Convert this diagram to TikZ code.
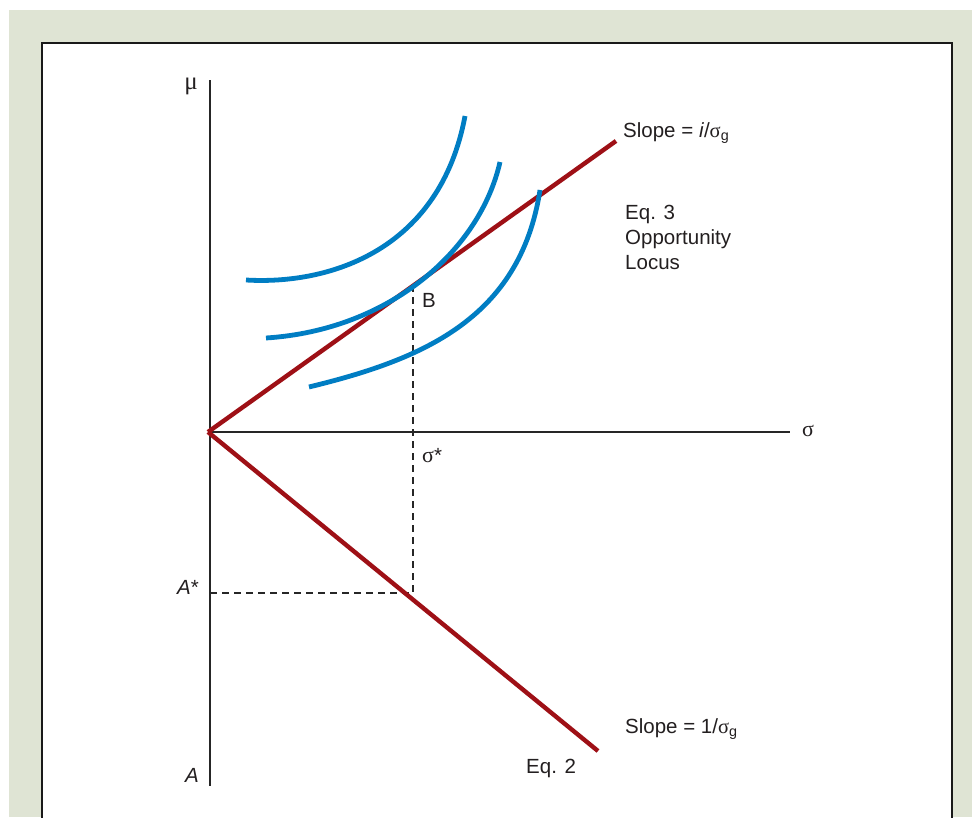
\documentclass[tikz,border=0pt]{standalone}
\usepackage{fontspec}
\setmainfont{Liberation Sans}
\newfontfamily\grk{Liberation Serif}
\definecolor{bgreen}{RGB}{223,228,212}
\definecolor{dred}{RGB}{158,16,22}
\definecolor{cblue}{RGB}{0,125,195}
\definecolor{tgray}{RGB}{35,31,32}
\begin{document}
\begin{tikzpicture}[x=1pt,y=-1pt,
  txt/.style={font=\fontsize{20.5}{25}\selectfont, text=tgray, inner sep=0pt},
  grklbl/.style={font=\grk\fontsize{22}{25}\selectfont, text=tgray, inner sep=0pt},
  axis/.style={draw=black!85, line width=1.4pt},
  redline/.style={draw=dred, line width=4.4pt},
  bluecurve/.style={draw=cblue, line width=4.8pt},
  guide/.style={draw=black!85, line width=1.2pt, dash pattern=on 7pt off 5pt}]
\useasboundingbox (0,0) rectangle (972,817);
\fill[white] (0,0) rectangle (972,817);
\fill[bgreen] (9,10) rectangle (972,817);
\draw[fill=white, draw=black!90, line width=1.8pt] (42,43) rectangle (952,830);
% coordinates
\coordinate (O) at (208,432);
\coordinate (ytop) at (210,80);
\coordinate (ybot) at (210,786);
\coordinate (xend) at (790,432);
\coordinate (U) at (616,141);
\coordinate (L) at (598,751);
\coordinate (B) at (413,285);
\coordinate (Bx) at (413,597);
\coordinate (Ay) at (210,593);
\coordinate (Ax) at (413,593);
% axes
\draw[axis] (ytop) -- (ybot);
\draw[axis] (O) -- (xend);
% guides
\draw[guide] (B) -- (Bx);
\draw[guide] (Ay) -- (Ax);
% red lines
\draw[redline] (O) -- (U);
\draw[redline] (O) -- (L);
% blue indifference curves
\draw[bluecurve] (246,280) .. controls (330,285) and (440,250) .. (465,116);
\draw[bluecurve] (266,338) .. controls (390,330) and (480,250) .. (500,162);
\draw[bluecurve] (309,387) .. controls (420,360) and (520,320) .. (540,190);
% labels
\node[grklbl, font=\grk\fontsize{25}{25}\selectfont] (mu) at (191,86) {μ};
\node[grklbl] (sig) at (808,431) {σ};
\node[txt, anchor=base west] (Blbl) at (422,307) {B};
\node[grklbl, anchor=base west] (sigstar) at (422,462) {σ{\fontsize{20.5}{25}\selectfont\rmfamily *}};
\node[txt, anchor=base west] (Astar) at (177,594) {\textit{A}*};
\node[txt, anchor=base west] (Albl) at (185,782) {\textit{A}};
\node[txt, anchor=base west] (slopeU) at (623,137) {Slope = \textit{i}/{\grk σ}\textsubscript{g}};
\node[txt, anchor=north west, align=left] (eq3) at (625,205) {Eq. 3\\Opportunity\\Locus};
\node[txt, anchor=base west] (slopeL) at (625,733) {Slope = 1/{\grk σ}\textsubscript{g}};
\node[txt, anchor=base west] (eq2) at (526,773) {Eq. 2};
\end{tikzpicture}
\end{document}
